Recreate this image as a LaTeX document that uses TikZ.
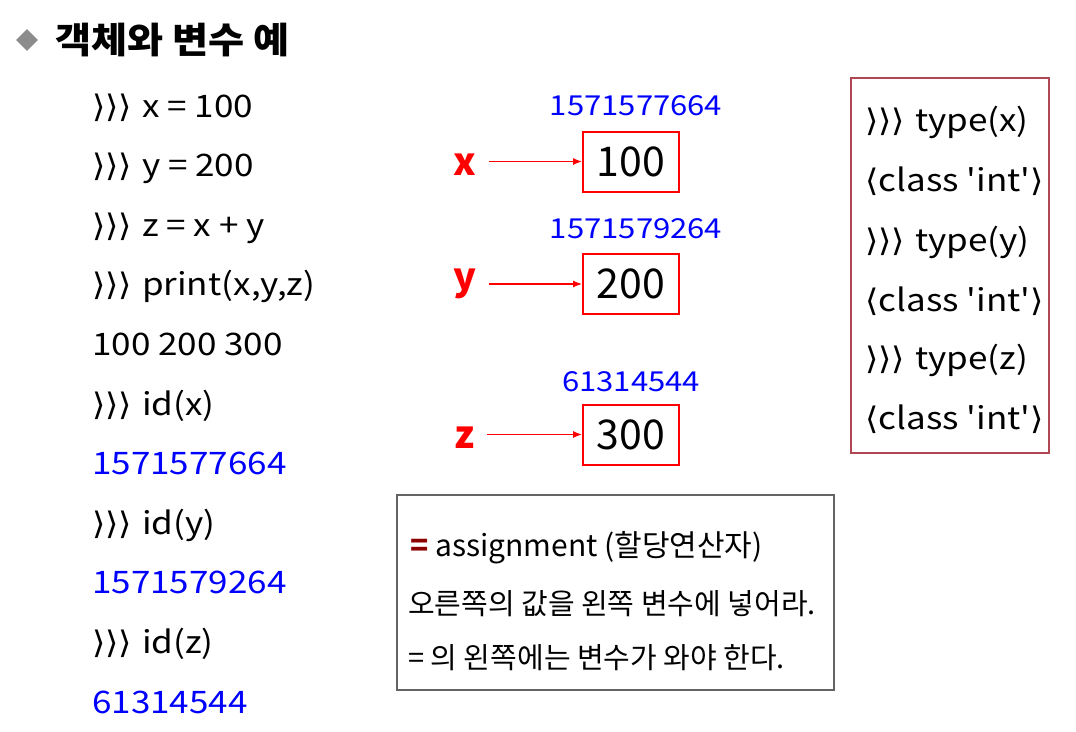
\documentclass[tikz,border=0pt]{standalone}
\usepackage{fontspec}
\setmainfont{Noto Sans CJK KR}
\newfontfamily\codef{Noto Sans CJK KR}[FakeStretch=1.13]
\newfontfamily\titlef{Noto Sans CJK KR}[FakeStretch=1.09]
\newfontfamily\djf{DejaVu Sans}[FakeStretch=1.1]
\usetikzlibrary{arrows.meta,shapes.geometric}
\newcommand\prm{{\djf ⟩⟩⟩}\hspace{0.32em}}
\newcommand\lab{{\djf ⟨}}
\newcommand\rab{{\djf ⟩}}
\definecolor{myblue}{RGB}{0,0,255}
\definecolor{myred}{RGB}{255,0,0}
\definecolor{boxred}{RGB}{176,72,84}
\definecolor{eqred}{RGB}{140,0,0}
\definecolor{boxgray}{RGB}{100,100,100}
\begin{document}
\begin{tikzpicture}[x=1pt,y=-1pt,
  codetxt/.style={anchor=base west,inner sep=0pt,font=\codef\fontsize{31}{36}\selectfont},
  idtxt/.style={codetxt,text=myblue},
  addr/.style={anchor=base,inner sep=0pt,text=myblue,font=\codef\fontsize{27.5}{34}\selectfont},
  valbox/.style={draw=myred,line width=2pt,minimum width=96pt,minimum height=60pt,inner sep=0pt,font=\fontsize{41}{48}\selectfont},
  varlab/.style={anchor=base,inner sep=0pt,text=myred,font=\fontsize{38}{44}\selectfont\bfseries},
  arr/.style={draw=myred,line width=1.2pt,-{Latex[length=9pt,width=7pt]}},
  notetxt/.style={anchor=base west,inner sep=0pt,font=\fontsize{29}{34}\selectfont}]
\useasboundingbox (0,0) rectangle (1076,731);
% title
\node[diamond,fill=gray!90,minimum width=22pt,minimum height=22pt,inner sep=0pt] (dia) at (27,40) {};
\node[anchor=base west,inner sep=0pt,font=\titlef\fontsize{36}{42}\selectfont\bfseries] (title) at (55,53) {객체와 변수 예};
% left column
\node[codetxt] (l1) at (92,117) {\prm x = 100};
\node[codetxt] (l2) at (92,176.6) {\prm y = 200};
\node[codetxt] (l3) at (92,236.2) {\prm z = x + y};
\node[codetxt] (l4) at (92,295.8) {\prm print(x,y,z)};
\node[codetxt] (l5) at (92,355.4) {100 200 300};
\node[codetxt] (l6) at (92,415) {\prm id(x)};
\node[idtxt] (l7) at (92,474.6) {1571577664};
\node[codetxt] (l8) at (92,534.2) {\prm id(y)};
\node[idtxt] (l9) at (92,593.8) {1571579264};
\node[codetxt] (l10) at (92,653.4) {\prm id(z)};
\node[idtxt] (l11) at (92,713) {61314544};
% memory boxes
\node[valbox] (b1) at (631,161.5) {100};
\node[valbox] (b2) at (631,284) {200};
\node[valbox] (b3) at (631,434.5) {300};
\node[addr] (a1) at (636,115) {1571577664};
\node[addr] (a2) at (636,238) {1571579264};
\node[addr] (a3) at (631,391) {61314544};
\node[varlab] (vx) at (465,175) {x};
\node[varlab] (vy) at (465,290) {y};
\node[varlab] (vz) at (465,448) {z};
\draw[arr] ([xshift=12pt]vx.east |- b1.west) -- (b1.west);
\draw[arr] ([xshift=12pt]vy.east |- b2.west) -- (b2.west);
\draw[arr] ([xshift=12pt]vz.east |- b3.west) -- (b3.west);
% type box
\draw[boxred,line width=1.3pt] (851,78) rectangle (1049,453);
\node[codetxt] (t1) at (865,131) {\prm type(x)};
\node[codetxt] (t2) at (865,191) {\lab class 'int'\rab};
\node[codetxt] (t3) at (865,251) {\prm type(y)};
\node[codetxt] (t4) at (865,311) {\lab class 'int'\rab};
\node[codetxt] (t5) at (865,369) {\prm type(z)};
\node[codetxt] (t6) at (865,429) {\lab class 'int'\rab};
% note box
\draw[boxgray,line width=1.2pt] (397,495) rectangle (834,690);
\node[notetxt,font=\fontsize{30}{34}\selectfont] (n1) at (410,556) {{\color{eqred}\bfseries =} assignment (할당연산자)};
\node[notetxt] (n2) at (408,614) {오른쪽의 값을 왼쪽 변수에 넣어라.};
\node[notetxt] (n3) at (408,668) {= 의 왼쪽에는 변수가 와야 한다.};
\end{tikzpicture}
\end{document}
